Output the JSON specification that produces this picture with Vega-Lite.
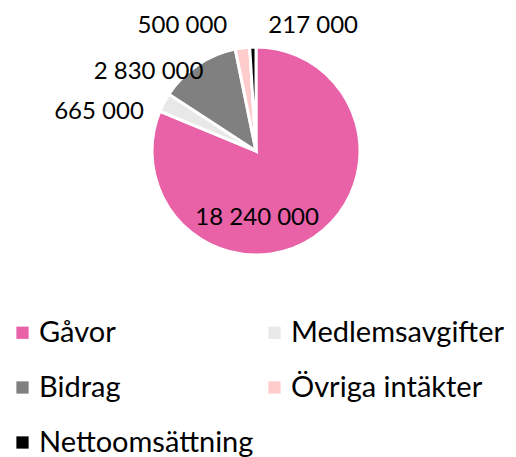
{
  "$schema": "https://vega.github.io/schema/vega-lite/v6.json",
  "width": 512,
  "height": 302,
  "padding": 0,
  "autosize": {"type": "pad"},
  "background": "white",
  "config": {"view": {"stroke": null}, "font": "Lato"},
  "data": {"values": [
    {"k": "Gåvor", "v": 18240000, "label": "18 240 000", "o": 1},
    {"k": "Medlemsavgifter", "v": 665000, "label": "665 000", "o": 2},
    {"k": "Bidrag", "v": 2830000, "label": "2 830 000", "o": 3},
    {"k": "Övriga intäkter", "v": 500000, "label": "500 000", "o": 4},
    {"k": "Nettoomsättning", "v": 217000, "label": "217 000", "o": 5}
  ]},
  "encoding": {
    "theta": {"field": "v", "type": "quantitative", "stack": true},
    "order": {"field": "o", "type": "quantitative"}
  },
  "layer": [
    {
      "mark": {"type": "arc", "outerRadius": 104, "stroke": "white", "strokeWidth": 3},
      "encoding": {
        "color": {
          "field": "k", "type": "nominal",
          "scale": {"domain": ["Gåvor", "Medlemsavgifter", "Bidrag", "Övriga intäkter", "Nettoomsättning"],
                    "range": ["#E962A8", "#E8E8E8", "#808080", "#FFCCCC", "#000000"]},
          "legend": {
            "title": null, "orient": "none", "legendX": 8, "legendY": 318, "direction": "horizontal", "columns": 2,
            "symbolType": "square", "symbolSize": 150, "symbolStrokeWidth": 0,
            "labelFontSize": 29, "labelColor": "#000", "labelFont": "Lato",
            "rowPadding": 25, "columnPadding": 6, "symbolOffset": 0, "labelOffset": 2,
            "padding": 0, "labelLimit": 400
          }
        }
      }
    },
    {
      "mark": {"type": "text", "radius": 65, "dx": -35, "dy": 13, "fontSize": 24, "color": "#000"},
      "encoding": {"text": {"condition": {"test": "datum.o == 1", "field": "label"}, "value": ""}}
    },
    {
      "mark": {"type": "text", "radius": 130, "dx": -42, "dy": 22, "fontSize": 24, "color": "#000"},
      "encoding": {"text": {"condition": {"test": "datum.o == 2", "field": "label"}, "value": ""}}
    },
    {
      "mark": {"type": "text", "radius": 120, "dx": -40, "dy": 20, "fontSize": 24, "color": "#000"},
      "encoding": {"text": {"condition": {"test": "datum.o == 3", "field": "label"}, "value": ""}}
    },
    {
      "mark": {"type": "text", "radius": 127, "dx": -57, "dy": 1, "fontSize": 24, "color": "#000"},
      "encoding": {"text": {"condition": {"test": "datum.o == 4", "field": "label"}, "value": ""}}
    },
    {
      "mark": {"type": "text", "radius": 126, "dx": 61, "dy": 1, "fontSize": 24, "color": "#000"},
      "encoding": {"text": {"condition": {"test": "datum.o == 5", "field": "label"}, "value": ""}}
    }
  ]
}
